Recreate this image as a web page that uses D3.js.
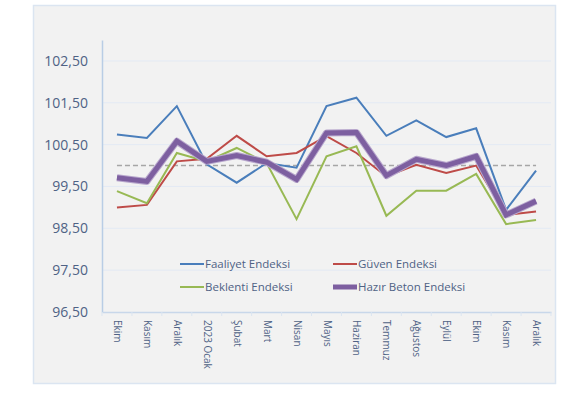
<!DOCTYPE html>
<html>
<head>
<meta charset="utf-8">
<script src="https://cdn.jsdelivr.net/npm/d3@7"></script>
<style>
  body { margin: 0; background: #fff; }
  svg { display: block; }
</style>
</head>
<body>
<svg id="chart" width="586" height="396"></svg>
<script>
// categories (Ekim 2022 - Aralık 2023)
const months = ["Ekim", "Kasım", "Aralık", "2023 Ocak", "Şubat", "Mart", "Nisan", "Mayıs",
    "Haziran", "Temmuz", "Ağustos", "Eylül", "Ekim", "Kasım", "Aralık"];

const faaliyet = [100.74, 100.66, 101.42, 100.03, 99.59, 100.06, 99.95, 101.42, 101.62, 100.71, 101.08, 100.68, 100.89, 98.94, 99.88];
const guven    = [99.00, 99.06, 100.10, 100.16, 100.71, 100.22, 100.30, 100.70, 100.30, 99.74, 100.02, 99.82, 100.00, 98.82, 98.90];
const beklenti = [99.39, 99.10, 100.30, 100.10, 100.42, 100.06, 98.72, 100.22, 100.46, 98.80, 99.40, 99.40, 99.80, 98.60, 98.70];
const hazirBeton = [99.71, 99.62, 100.58, 100.10, 100.24, 100.08, 99.67, 100.78, 100.79, 99.76, 100.15, 100.00, 100.22, 98.82, 99.15];
const esik = months.map(() => 100);

const yTicks = [96.5, 97.5, 98.5, 99.5, 100.5, 101.5, 102.5];

const series = [
    { name: "Faaliyet Endeksi", values: faaliyet, color: "#4a7ebb", width: 2 },
    { name: "Güven Endeksi", values: guven, color: "#be4b48", width: 2 },
    { name: "Beklenti Endeksi", values: beklenti, color: "#98b954", width: 2 },
    { name: "Hazır Beton Endeksi", values: hazirBeton, color: "#7d5fa0", width: 5 }
];

const svg = d3.select("#chart");
const margin = { left: 102, right: 35, top: 40, bottom: 84 };
const W = 586, H = 396;

// outer frame
svg.append("rect")
    .attr("x", 33.5).attr("y", 5.5)
    .attr("width", 522).attr("height", 378)
    .attr("fill", "#f2f2f2")
    .attr("stroke", "#dbe5f1")
    .attr("stroke-width", 1.5);

const x = d3.scaleBand()
    .domain(d3.range(months.length))
    .range([margin.left, W - margin.right]);

const y = d3.scaleLinear()
    .domain([96.5, 103])
    .range([H - margin.bottom, margin.top]);

const cx = i => x(i) + x.bandwidth() / 2;

// gridlines
svg.append("g")
    .selectAll("line")
    .data(yTicks.slice(1))
    .enter().append("line")
        .attr("x1", margin.left).attr("x2", W - margin.right)
        .attr("y1", d => y(d)).attr("y2", d => y(d))
        .attr("stroke", "#e3eaf4")
        .attr("stroke-width", 1);

// y axis
const yAxis = g => {
    g.attr("transform", `translate(${margin.left}, 0)`)
        .call(d3.axisLeft(y).tickValues(yTicks).tickSize(0).tickPadding(14)
            .tickFormat(d => d3.format(".2f")(d).replace(".", ",")));
    g.select(".domain").attr("stroke", "#b9cde5").attr("stroke-width", 1.5);
    g.selectAll("text")
        .attr("fill", "#4f6285")
        .style("font", "14px 'Open Sans', sans-serif");
};
svg.append("g").call(yAxis);

// x axis
const xAxis = g => {
    g.attr("transform", `translate(0, ${H - margin.bottom})`)
        .call(d3.axisBottom(x).tickSize(0).tickFormat(""));
    g.select(".domain").attr("stroke", "#c8d7ea").attr("stroke-width", 1.5);
    g.selectAll(".tick").remove();
    g.selectAll("line.sep")
        .data(d3.range(months.length + 1))
        .enter().append("line")
            .attr("class", "sep")
            .attr("x1", i => margin.left + i * x.step())
            .attr("x2", i => margin.left + i * x.step())
            .attr("y1", 0).attr("y2", 4)
            .attr("stroke", "#dbe5f1");
    g.selectAll("text.lbl")
        .data(months)
        .enter().append("text")
            .attr("class", "lbl")
            .attr("transform", (d, i) => `translate(${cx(i) - 3}, 8) rotate(90)`)
            .attr("text-anchor", "start")
            .attr("fill", "#4f6285")
            .style("font", "10px 'Open Sans', sans-serif")
            .text(d => d);
};
svg.append("g").call(xAxis);

const line = d3.line()
    .x((d, i) => cx(i))
    .y(d => y(d));

// 100 threshold
svg.append("path")
    .datum(esik)
    .attr("d", line)
    .attr("fill", "none")
    .attr("stroke", "#a6a6a6")
    .attr("stroke-width", 1.5)
    .attr("stroke-dasharray", "5,3");

const drawOrder = [series[0], series[1], series[2], series[3]];
drawOrder.forEach(s => {
    if (s.width > 3) {
        svg.append("path")
            .datum(s.values)
            .attr("d", line)
            .attr("fill", "none")
            .attr("stroke", "#b7a6cc")
            .attr("stroke-width", s.width + 2)
            .attr("stroke-linejoin", "round");
    }
    svg.append("path")
        .datum(s.values)
        .attr("d", line)
        .attr("fill", "none")
        .attr("stroke", s.color)
        .attr("stroke-width", s.width)
        .attr("stroke-linejoin", "miter");
});

// legend
const legendPos = [
    { x: 180, y: 264 }, { x: 333, y: 264 },
    { x: 180, y: 287 }, { x: 333, y: 287 }
];
const legend = svg.append("g")
    .selectAll("g")
    .data(series)
    .enter().append("g")
        .attr("transform", (d, i) => `translate(${legendPos[i].x}, ${legendPos[i].y})`);

legend.append("line")
    .attr("x1", 0).attr("x2", 24)
    .attr("stroke", d => d.color)
    .attr("stroke-width", d => d.width);

legend.append("text")
    .attr("x", 25)
    .attr("dy", "0.35em")
    .attr("fill", "#4f6285")
    .style("font", "11.5px 'Open Sans', sans-serif")
    .text(d => d.name);
</script>
</body>
</html>
